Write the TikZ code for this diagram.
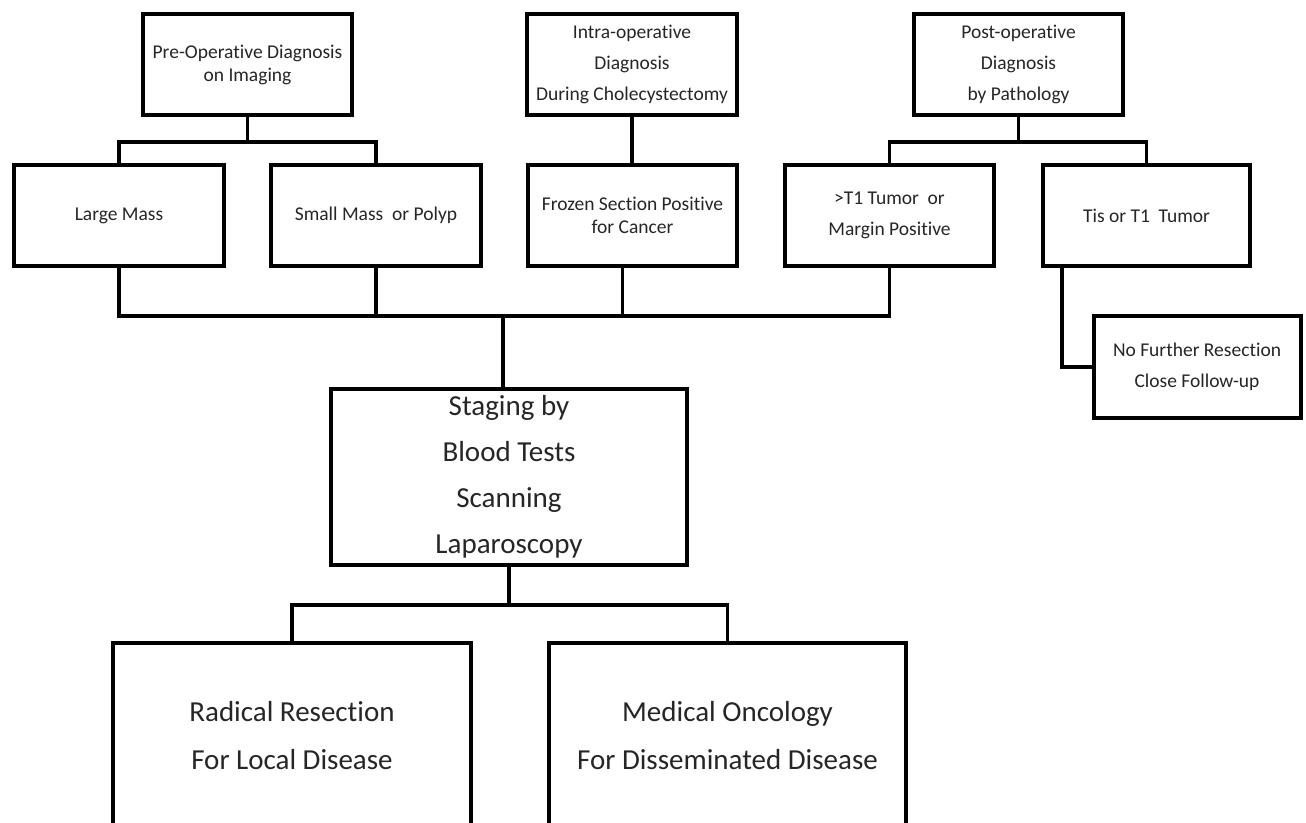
\documentclass[tikz,border=0pt]{standalone}
\usepackage{fontspec}
\setmainfont{Carlito}[Ligatures=NoCommon]
\usetikzlibrary{calc}
\begin{document}
\begin{tikzpicture}[x=1pt,y=-1pt,
  box/.style={draw=black, line width=4pt, fill=white, rectangle, align=center, inner sep=0pt, text=black!85, line join=miter},
  conn/.style={draw=black, line width=3.5pt},
  sm/.style={font=\fontsize{19.5}{23}\selectfont},
  smw/.style={font=\fontsize{19.5}{31}\selectfont},
  big/.style={font=\fontsize{29}{46}\selectfont},
  bigw/.style={font=\fontsize{29}{48}\selectfont},
]
\useasboundingbox (0,0) rectangle (1306,822);
\clip (0,0) rectangle (1306,822);
\fill[white] (0,0) rectangle (1306,822);

% top row
\node[box, sm, minimum width=209pt, minimum height=101pt] (pre) at (247.5,64.5) {Pre-Operative Diagnosis\\on Imaging};
\node[box, smw, minimum width=210pt, minimum height=101pt] (intra) at (632,64.5) {Intra-operative\\Diagnosis\\During Cholecystectomy};
\node[box, smw, minimum width=209pt, minimum height=101pt] (post) at (1018.5,64.5) {Post-operative\\Diagnosis\\by Pathology};

% second row
\node[box, sm, minimum width=210pt, minimum height=101pt] (large) at (119,215.5) {Large Mass};
\node[box, sm, minimum width=210pt, minimum height=101pt] (small) at (376,215.5) {Small Mass\ \ or Polyp};
\node[box, sm, minimum width=209pt, minimum height=101pt] (frozen) at (632.5,215.5) {Frozen Section Positive\\for Cancer};
\node[box, smw, minimum width=209pt, minimum height=101pt] (t1) at (889.5,215.5) {>T1 Tumor\ \ or\\Margin Positive};
\node[box, sm, minimum width=207pt, minimum height=101pt] (tis) at (1146.5,215.5) {Tis or T1\ \ Tumor};

% side box
\node[box, smw, minimum width=207pt, minimum height=102pt] (nofurther) at (1197,367) {No Further Resection\\Close Follow-up};

% staging
\node[box, big, minimum width=356pt, minimum height=176pt] (staging) at (509,477) {Staging by\\Blood Tests\\Scanning\\Laparoscopy};

% bottom
\node[box, bigw, minimum width=358pt, minimum height=186pt] (radical) at (292,736) {Radical Resection\\For Local Disease};
\node[box, bigw, minimum width=357pt, minimum height=186pt] (medical) at (727.5,736) {Medical Oncology\\For Disseminated Disease};

% connectors top
\draw[conn] (pre.south) -- ++(0,25) coordinate (pj);
\draw[conn] (large.north) |- (pj) -| (small.north);
\draw[conn] (intra.south) -- (intra.south |- frozen.north);
\draw[conn] (post.south) -- ++(0,25) coordinate (qj);
\draw[conn] (t1.north) |- (qj) -| (tis.north);

% bottom bus
\path (large.south) ++(0,48) coordinate (bj);
\draw[conn] (large.south) |- (bj -| t1.south) -- (t1.south);
\draw[conn] (small.south) -- (small.south |- bj);
\draw[conn] ([xshift=-10pt]frozen.south) -- ([xshift=-10pt]frozen.south |- bj);
\draw[conn] ([xshift=-6pt]staging.north |- bj) -- ([xshift=-6pt]staging.north);

% tis to side box
\draw[conn] ([xshift=-84.5pt]tis.south) |- (nofurther.west);

% staging to bottom
\draw[conn] (staging.south) -- ++(0,38) coordinate (sj);
\draw[conn] (radical.north) |- (sj) -| (medical.north);
\end{tikzpicture}
\end{document}
